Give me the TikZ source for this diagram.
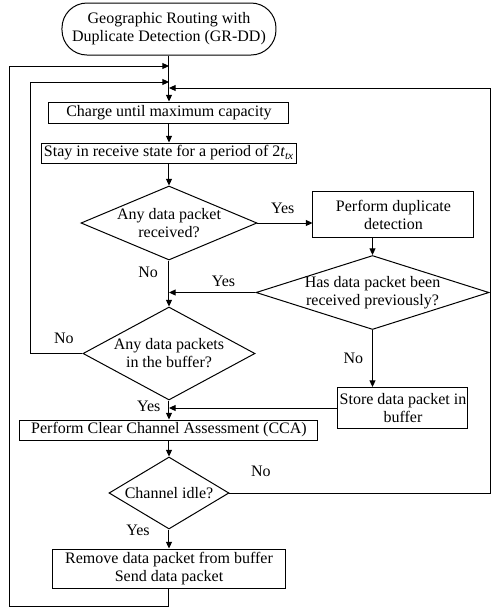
\documentclass[tikz,border=0pt]{standalone}
\usepackage{fontspec}
\setmainfont{Liberation Serif}
\usetikzlibrary{shapes.geometric, arrows.meta, positioning}

\begin{document}
\begin{tikzpicture}[node distance=2cm, line width=0.6pt,
        font=\fontsize{9.6}{10.8}\selectfont,
        terminal/.style={draw, rectangle, rounded corners=15pt, align=center, inner sep=1pt},
        block/.style={draw, rectangle, align=center, inner sep=1pt},
        decision/.style={draw, diamond, align=center, inner sep=-2pt},
        flow/.style={draw, -{Triangle[length=4pt,width=3.6pt]}}]
        \useasboundingbox (-101.4pt,17.4pt) rectangle (193.8pt,-347.4pt);

        \node[terminal, minimum width=128.4pt, minimum height=31.2pt] (start) {Geographic Routing with\\Duplicate Detection (GR-DD)};
        \node[block, minimum width=144pt, minimum height=12.6pt] (charge) [below of = start, node distance=50.1pt] {Charge until maximum capacity};
        \node[block, minimum width=153pt, minimum height=12pt] (stay) [below of = charge, node distance=24.3pt] {Stay in receive state for a period of 2\textit{t}\textsubscript{\textit{tx}}};
        \node[decision, aspect=2.378, minimum width=105.6pt, minimum height=44.4pt] (recv) [below of = stay, node distance=42pt] {Any data packet\\received?};
        \node[block, minimum width=96.6pt, minimum height=27.6pt] (dup) [right of = recv, node distance=134.7pt, yshift=5.1pt] {Perform duplicate\\detection};
        \node[decision, aspect=3.149, minimum width=139.8pt, minimum height=44.4pt] (prev) [below of = dup, node distance=46.8pt, xshift=-12.6pt] {Has data packet been\\received previously?};
        \node[block, minimum width=78pt, minimum height=24.6pt] (store) [below of = prev, node distance=69.3pt, xshift=18.3pt] {Store data packet in\\buffer};
        \node[decision, aspect=1.849, minimum width=103.2pt, minimum height=55.8pt] (buf) [below of = recv, node distance=78.3pt] {Any data packets\\in the buffer?};
        \node[block, minimum width=178.8pt, minimum height=12pt] (cca) [below of = buf, node distance=45.9pt] {Perform Clear Channel Assessment (CCA)};
        \node[decision, aspect=1.667, minimum width=72pt, minimum height=43.2pt] (idle) [below of = cca, node distance=37.8pt] {Channel idle?};
        \node[block, minimum width=139.8pt, minimum height=23.4pt] (remove) [below of = idle, node distance=45.3pt] {Remove data packet from buffer\\Send data packet};

        % joints on the main line
        \coordinate (j1) at ([yshift=-22.2pt]start.center);
        \coordinate (j2) at ([yshift=-31.8pt]start.center);
        \coordinate (j3) at ([yshift=-35.4pt]start.center);
        \coordinate (rail1) at ([xshift=-95.4pt]j1);
        \coordinate (rail2) at ([xshift=-82.8pt]j2);
        \coordinate (rail3) at ([xshift=193.2pt]j3);

        \path[flow] (start) edge (charge)
          (charge) edge (stay)
          (stay) edge (recv);

        \draw[flow] (recv.east) -- node[above=2pt, pos=0.46] {Yes} (recv.east -| dup.west);
        \draw[flow] (recv) -- node[left=3pt, pos=0.26] {No} (buf);
        \draw[flow] (prev.north |- dup.south) -- (prev.north);
        \draw[flow] (prev.west) -- node[above, pos=0.37] {Yes} (prev.west -| recv.south);
        \draw[flow] (prev.south) -- node[left=2pt] {No} (prev.south |- store.north);
        \draw[flow] (store.west) -- (store.west -| buf.south);
        \draw[flow] (buf) -- node[left=1.5pt, pos=0.3] {Yes} (cca);
        \draw[flow] (cca) -- (idle);
        \draw[flow] (idle) -- node[left=8pt, pos=0.05] {Yes} (remove);

        % loops back to the top
        \draw[flow] (buf.west) -| node[above=2pt, pos=0.18] {No} (rail2) -- (j2);
        \draw[flow] (idle.east) -| node[above=6pt, pos=0.06] {No} (rail3) -- (j3);
        \draw[flow] (remove.south) -- ++(0,-10.8pt) -| (rail1) -- (j1);
      \end{tikzpicture}
\end{document}
